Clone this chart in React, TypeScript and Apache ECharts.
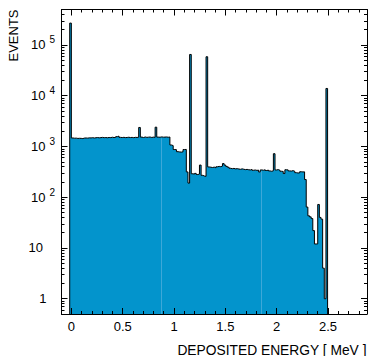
import React, { useEffect, useRef } from "react";
import * as echarts from "echarts";

// ---- histogram data (bin width 0.016 MeV, first bin starts at -0.016 MeV) ----
const BIN_START = -0.016;
const BIN_WIDTH = 0.016;

const zeroBin = [270000];
const lowEnergyCounts = [
  1470, 1455, 1460, 1440, 1450, 1445, 1430, 1465, 1470, 1460,
  1480, 1475, 1490, 1470, 1485, 1500, 1480, 1495, 1510, 1490,
  1500, 1485, 1505, 1495, 1520, 1500, 1510, 1560, 1600, 1510,
  1500, 1515, 1495, 1505, 1520, 1500, 1510, 1490, 1515, 1505,
  1520, 2370, 1530, 1500, 1540, 1510, 1525, 1535, 1505, 1530,
  1515, 2400, 1530, 1520, 1545, 1525, 1530, 1540, 1520, 1535,
];
const peakRegionCounts = [
  1070, 1040, 870, 865, 790, 780, 775, 785, 870, 875,
  315, 190, 65000, 290, 285, 295, 280, 285, 430, 270,
  262, 258, 58600,
];
const midCounts = [
  395, 390, 385, 392, 380, 398, 405, 400, 410, 460,
  430, 405, 390, 372, 365, 370, 362, 366, 360, 355,
  362, 356, 350, 354, 348, 345, 352, 340, 344, 338,
  342, 315, 345, 340, 348, 336, 342, 330, 325, 332,
  720, 345, 350, 340, 325, 322, 293, 348, 345, 330,
  328, 334, 326, 305, 300, 302, 318, 315, 316,
];
const tailCounts = [223, 64, 43, 41, 38, 22, 12, 12, 72, 40, 37, 4, 1, 13900];

const counts = [...zeroBin, ...lowEnergyCounts, ...peakRegionCounts, ...midCounts, ...tailCounts];

// light seams visible inside the filled histogram
const fillSeamsX = [0.88, 1.845];

// ---- axes ----
const X_MIN = -0.096;
const X_MAX = 2.88;
const Y_MIN = 0.5;
const Y_MAX = 500000;
const xMajorTicks = [0, 0.5, 1, 1.5, 2, 2.5];
const xMinorTicks = [
  0.1, 0.2, 0.3, 0.4, 0.6, 0.7, 0.8, 0.9, 1.1, 1.2, 1.3, 1.4, 1.6, 1.7, 1.8, 1.9,
  2.1, 2.2, 2.3, 2.4, 2.6, 2.7, 2.8,
];
const yMajorTicks = [1, 10, 100, 1000, 10000, 100000];
const yDecades = [0.1, 1, 10, 100, 1000, 10000, 100000];
const yMultipliers = [2, 3, 4, 5, 6, 7, 8, 9];

const FONT = "Liberation Sans";
const FILL = "#0394cc";

export default function App() {
  const ref = useRef<HTMLDivElement>(null);

  useEffect(() => {
    document.body.style.margin = "0";
    if (!ref.current) return;
    const chart = echarts.init(ref.current, undefined, { renderer: "svg" });

    const LY_MIN = Math.log10(Y_MIN);
    const LY_MAX = Math.log10(Y_MAX);
    const yMinorTicks = yDecades
      .flatMap((d) => yMultipliers.map((m) => m * d))
      .filter((v) => v >= Y_MIN && v <= Y_MAX);
    const yMajorLog = yMajorTicks.map((v) => Math.log10(v));
    const yMinorLog = yMinorTicks.map((v) => Math.log10(v));

    const edges = counts.map((_, i) => +(BIN_START + i * BIN_WIDTH).toFixed(4));
    const endEdge = +(BIN_START + counts.length * BIN_WIDTH).toFixed(4);
    const stepData: number[][] = [
      [edges[0], Y_MIN],
      ...counts.map((c, i) => [edges[i], c]),
      [endEdge, counts[counts.length - 1]],
      [endEdge, Y_MIN],
    ];

    const seamLines = fillSeamsX.map((x) => {
      const idx = Math.floor((x - BIN_START) / BIN_WIDTH);
      return [{ coord: [x, Y_MIN] }, { coord: [x, counts[idx] * 0.95] }];
    });

    const black = { color: "#000", width: 1 };

    const tickX = (position: string, values: number[], length: number, showLine: boolean) => ({
      type: "value",
      position,
      min: X_MIN,
      max: X_MAX,
      z: 10,
      axisLine: { show: showLine, onZero: false, lineStyle: black },
      axisTick: { show: true, inside: true, length, customValues: values, lineStyle: black },
      axisLabel: { show: false },
      splitLine: { show: false },
    });
    const tickY = (position: string, values: number[], length: number, showLine: boolean) => ({
      type: "value",
      position,
      min: LY_MIN,
      max: LY_MAX,
      z: 10,
      axisLine: { show: showLine, onZero: false, lineStyle: black },
      axisTick: { show: true, inside: true, length, customValues: values, lineStyle: black },
      axisLabel: { show: false },
      splitLine: { show: false },
    });

    const option: any = {
      animation: false,
      backgroundColor: "#fff",
      textStyle: { fontFamily: FONT },
      grid: { left: 61.5, right: 3, top: 9.5, bottom: 42, containLabel: false },
      xAxis: [
        {
          type: "value",
          position: "bottom",
          min: X_MIN,
          max: X_MAX,
          z: 10,
          axisLine: { show: true, onZero: false, lineStyle: black },
          axisTick: { show: true, inside: true, length: 6, customValues: xMajorTicks, lineStyle: black },
          axisLabel: {
            show: true,
            customValues: xMajorTicks,
            margin: 6,
            color: "#000",
            fontSize: 13,
            fontFamily: FONT,
            formatter: (v: number) => String(v),
          },
          splitLine: { show: false },
        },
        tickX("bottom", xMinorTicks, 3, false),
        tickX("top", xMajorTicks, 6, true),
        tickX("top", xMinorTicks, 3, false),
      ],
      yAxis: [
        {
          type: "log",
          logBase: 10,
          position: "left",
          min: Y_MIN,
          max: Y_MAX,
          z: 10,
          axisLine: { show: true, onZero: false, lineStyle: black },
          axisTick: { show: false },
          axisLabel: { show: false },
          splitLine: { show: false },
        },
        {
          type: "value",
          position: "left",
          min: LY_MIN,
          max: LY_MAX,
          z: 10,
          axisLine: { show: false, onZero: false },
          axisTick: { show: true, inside: true, length: 6, customValues: yMajorLog, lineStyle: black },
          axisLabel: {
            show: true,
            customValues: yMajorLog,
            margin: 6.5,
            color: "#000",
            fontFamily: FONT,
            fontSize: 13,
            formatter: (v: number) => {
              const e = Math.round(v);
              if (e === 0) return "{one|1}";
              if (e === 1) return "{ten|10}";
              return `{base|10}{exp|${e}}`;
            },
            rich: {
              one: { fontSize: 13, fontFamily: FONT, color: "#000", padding: [0, 8.5, 0, 0] },
              ten: { fontSize: 13, fontFamily: FONT, color: "#000", padding: [0, 12, 0, 0] },
              base: { fontSize: 13, fontFamily: FONT, color: "#000", lineHeight: 20 },
              exp: {
                fontSize: 10,
                fontFamily: FONT,
                color: "#000",
                lineHeight: 10,
                verticalAlign: "top",
                padding: [0, 0, 0, 4],
              },
            },
          },
          splitLine: { show: false },
        },
        tickY("left", yMinorLog, 3, false),
        tickY("right", yMajorLog, 6, true),
        tickY("right", yMinorLog, 3, false),
      ],
      series: [
        {
          type: "line",
          xAxisIndex: 0,
          yAxisIndex: 0,
          data: stepData,
          step: "end",
          symbol: "none",
          showSymbol: false,
          silent: true,
          lineStyle: { color: "#000", width: 1 },
          areaStyle: { color: FILL, opacity: 1, origin: Y_MIN },
          markLine: {
            silent: true,
            symbol: ["none", "none"],
            label: { show: false },
            lineStyle: { color: "#3ea8d8", width: 1, type: "solid" },
            data: seamLines,
          },
          z: 2,
        },
      ],
      graphic: [
        {
          type: "text",
          x: 13.5,
          y: 9.5,
          rotation: Math.PI / 2,
          style: {
            text: "EVENTS",
            fontSize: 13,
            fontFamily: FONT,
            fill: "#000",
            align: "right",
            verticalAlign: "middle",
          },
        },
        {
          type: "text",
          x: 366.5,
          y: 350,
          style: {
            text: "DEPOSITED ENERGY [ MeV ]",
            fontSize: 13.8,
            fontFamily: FONT,
            fill: "#000",
            align: "right",
            verticalAlign: "middle",
          },
        },
      ],
    };

    chart.setOption(option);
    return () => chart.dispose();
  }, []);

  return (
    <div
      ref={ref}
      style={{ position: "fixed", left: 0, top: 0, width: 370, height: 356, background: "#fff" }}
    />
  );
}
